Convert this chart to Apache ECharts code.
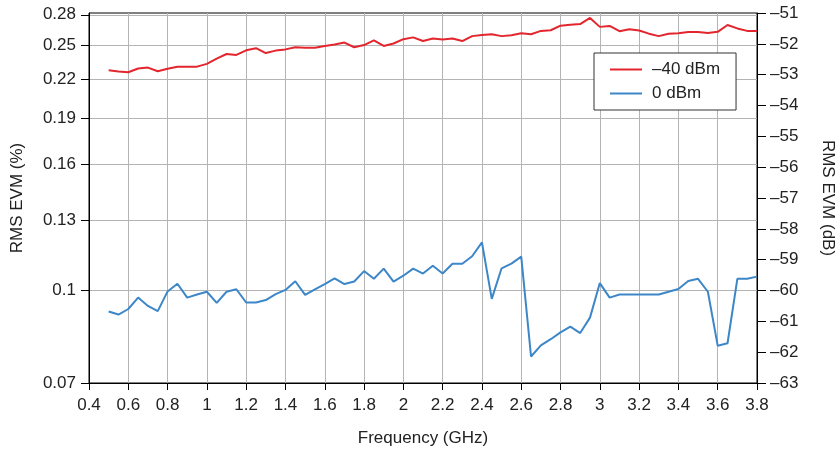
<!DOCTYPE html>
<html>
<head>
<meta charset="utf-8">
<script src="https://cdn.jsdelivr.net/npm/echarts@6/dist/echarts.min.js"></script>
<style>
html,body{margin:0;padding:0;background:#fff;}
#chart{width:840px;height:451px;}
</style>
</head>
<body>
<div id="chart"></div>
<script>
// Frequency (GHz)
const freq = [0.5,0.55,0.6,0.65,0.7,0.75,0.8,0.85,0.9,0.95,1.0,1.05,1.1,1.15,1.2,1.25,1.3,1.35,1.4,1.45,1.5,1.55,1.6,1.65,1.7,1.75,1.8,1.85,1.9,1.95,2.0,2.05,2.1,2.15,2.2,2.25,2.3,2.35,2.4,2.45,2.5,2.55,2.6,2.65,2.7,2.75,2.8,2.85,2.9,2.95,3.0,3.05,3.1,3.15,3.2,3.25,3.3,3.35,3.4,3.45,3.5,3.55,3.6,3.65,3.7,3.75,3.8];
// RMS EVM (dB), -40 dBm input
const evmMinus40 = [-52.86,-52.90,-52.92,-52.80,-52.77,-52.89,-52.81,-52.74,-52.74,-52.74,-52.65,-52.48,-52.33,-52.36,-52.21,-52.14,-52.30,-52.22,-52.18,-52.11,-52.13,-52.13,-52.07,-52.02,-51.96,-52.11,-52.04,-51.89,-52.07,-51.99,-51.85,-51.79,-51.91,-51.83,-51.86,-51.83,-51.91,-51.75,-51.71,-51.69,-51.75,-51.72,-51.66,-51.69,-51.58,-51.56,-51.41,-51.38,-51.36,-51.16,-51.45,-51.42,-51.59,-51.53,-51.57,-51.67,-51.75,-51.67,-51.66,-51.62,-51.62,-51.65,-51.61,-51.39,-51.50,-51.58,-51.58];
// RMS EVM (dB), 0 dBm input
const evm0 = [-60.68,-60.78,-60.60,-60.23,-60.50,-60.67,-60.03,-59.78,-60.23,-60.13,-60.04,-60.40,-60.04,-59.96,-60.39,-60.39,-60.31,-60.12,-59.98,-59.70,-60.14,-59.96,-59.79,-59.61,-59.79,-59.71,-59.37,-59.62,-59.29,-59.71,-59.52,-59.29,-59.45,-59.20,-59.45,-59.13,-59.13,-58.89,-58.44,-60.27,-59.28,-59.13,-58.90,-62.14,-61.78,-61.58,-61.36,-61.17,-61.38,-60.88,-59.76,-60.23,-60.13,-60.13,-60.13,-60.13,-60.13,-60.04,-59.95,-59.69,-59.62,-60.04,-61.79,-61.71,-59.62,-59.62,-59.55];
// Left axis tick labels (RMS EVM in %)
const pctTicks = [0.07,0.1,0.13,0.16,0.19,0.22,0.25,0.28];

const DB_MIN = -63, DB_MAX = -51;
const toDb = p => 20*Math.log10(p/100);
const pctPos = pctTicks.map(p => Math.min(DB_MAX, Math.max(DB_MIN, toDb(p))));
function pctLabel(v){
  let best = 0, bd = 1e9;
  pctPos.forEach((q,i)=>{ const d=Math.abs(q-v); if(d<bd){bd=d;best=i;} });
  return String(pctTicks[best]);
}
const FONT = 'Liberation Sans';
const FS = 17;
const chart = echarts.init(document.getElementById('chart'), null, {renderer:'canvas'});
chart.setOption({
  animation:false,
  backgroundColor:'#fff',
  textStyle:{fontFamily:FONT},
  grid:{left:89,right:83,top:13,bottom:68,show:true,borderColor:'#000',borderWidth:1,
        containLabel:false, outerBoundsMode:'none'},
  legend:{
    left:594, top:53, orient:'vertical',
    backgroundColor:'#fff', borderColor:'#333', borderWidth:1,
    padding:[8,16,8,15], itemGap:7, itemWidth:32, itemHeight:14,
    itemStyle:{opacity:0, borderWidth:0},
    textStyle:{fontFamily:FONT,fontSize:FS,color:'#222',padding:[0,0,0,5]},
    data:['–40 dBm','0 dBm']
  },
  xAxis:{
    type:'value', min:0.4, max:3.8, interval:0.2,
    name:'Frequency (GHz)', nameLocation:'middle', nameGap:47,
    nameTextStyle:{fontFamily:FONT,fontSize:FS,color:'#222'},
    axisLine:{show:true,lineStyle:{color:'#000',width:1}},
    axisTick:{show:true,length:7,inside:false,lineStyle:{color:'#000'}},
    axisLabel:{fontFamily:FONT,fontSize:FS,color:'#222',margin:14},
    splitLine:{show:true,lineStyle:{color:'#b4b4b4',width:1}}
  },
  yAxis:[
    {
      type:'value', min:DB_MIN, max:DB_MAX, position:'left',
      name:'RMS EVM (%)', nameLocation:'middle', nameGap:63,
      nameTextStyle:{fontFamily:FONT,fontSize:FS,color:'#222'},
      axisLine:{show:true,lineStyle:{color:'#000',width:1}},
      axisTick:{show:true,length:8,customValues:pctPos,lineStyle:{color:'#000'}},
      axisLabel:{fontFamily:FONT,fontSize:FS,color:'#222',margin:13,customValues:pctPos,formatter:pctLabel},
      splitLine:{show:true,lineStyle:{color:'#b4b4b4',width:1}}
    },
    {
      type:'value', min:DB_MIN, max:DB_MAX, interval:1, position:'right',
      name:'RMS EVM (dB)', nameLocation:'middle', nameGap:62, nameRotate:-90,
      nameTextStyle:{fontFamily:FONT,fontSize:FS,color:'#222'},
      axisLine:{show:true,lineStyle:{color:'#000',width:1}},
      axisTick:{show:true,length:9,lineStyle:{color:'#000'}},
      axisLabel:{fontFamily:FONT,fontSize:FS,color:'#222',margin:13,
        formatter:v=> v<0 ? '–'+Math.abs(v) : String(v)},
      splitLine:{show:false}
    }
  ],
  series:[
    {name:'–40 dBm', type:'line', yAxisIndex:1, symbol:'none', showSymbol:false,
     lineStyle:{color:'#e3262d',width:2}, itemStyle:{color:'#e3262d'},
     data:freq.map((f,i)=>[f,evmMinus40[i]])},
    {name:'0 dBm', type:'line', yAxisIndex:1, symbol:'none', showSymbol:false,
     lineStyle:{color:'#3d87c9',width:2}, itemStyle:{color:'#3d87c9'},
     data:freq.map((f,i)=>[f,evm0[i]])}
  ]
});
</script>
</body>
</html>
